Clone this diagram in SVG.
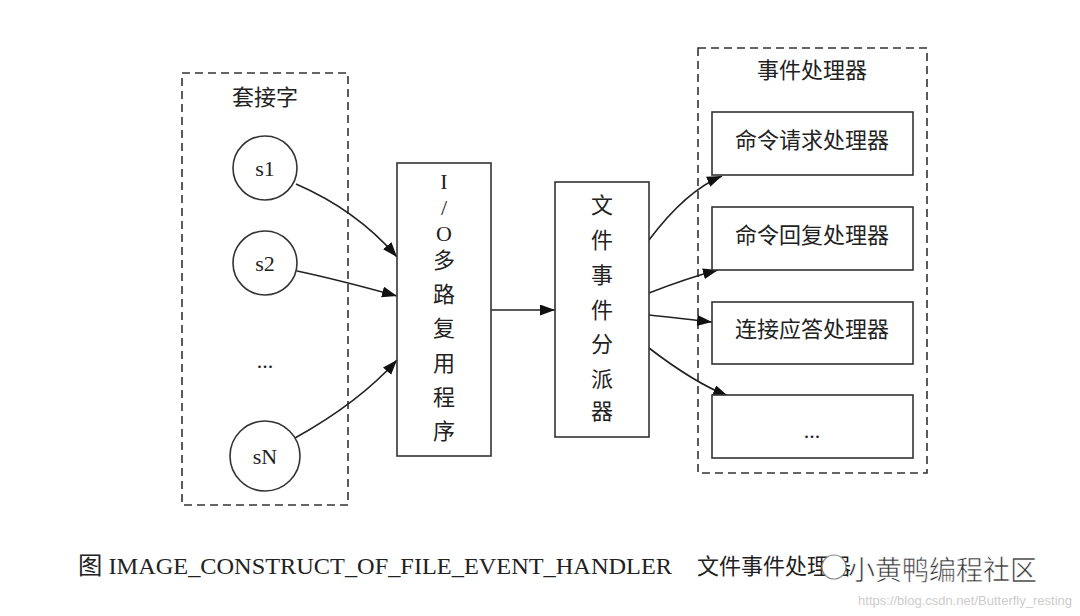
<svg xmlns="http://www.w3.org/2000/svg" width="1080" height="616" viewBox="0 0 1080 616">
<style>
.t{font-family:"Liberation Serif","Noto Sans CJK SC",serif;fill:#222;text-anchor:middle;dominant-baseline:central}
.c{font-size:22px}
.cl{fill:none;stroke:#333;stroke-width:1.6;stroke-dasharray:8,5}
.n{fill:#fff;stroke:#333;stroke-width:1.6}
.e{fill:none;stroke:#222;stroke-width:1.6;marker-end:url(#ah)}
</style>
<defs>
<marker id="ah" markerUnits="userSpaceOnUse" markerWidth="16" markerHeight="12" refX="15" refY="5.5" orient="auto">
<path d="M0,0 L15,5.5 L0,11 z" fill="#111"/>
</marker>
</defs>
<rect width="1080" height="616" fill="#fff"/>
<g id="cluster-sockets">
<rect class="cl" x="182" y="73" width="166" height="432"/>
<text class="t c" x="265" y="97">套接字</text>
</g>
<g id="cluster-handlers">
<rect class="cl" x="698" y="48" width="229" height="425"/>
<text class="t c" x="812" y="70">事件处理器</text>
</g>
<g id="connectors">
<path class="e" d="M296,184 C340,203 372,228 397,257"/>
<path class="e" d="M297,271 C335,279 368,288 397,296"/>
<path class="e" d="M295,438 C340,413 372,388 397,360"/>
<path class="e" d="M491,310 L555,310"/>
<path class="e" d="M649,240 C670,212 693,188 722,176"/>
<path class="e" d="M649,293 C672,284 695,276 718,270"/>
<path class="e" d="M649,315 C670,317 692,320 712,322"/>
<path class="e" d="M649,348 C675,368 700,385 728,396"/>
</g>
<g id="s1"><circle class="n" cx="265" cy="168" r="32"/><text class="t c" x="265" y="168">s1</text></g>
<g id="s2"><circle class="n" cx="265" cy="263" r="32"/><text class="t c" x="265" y="263">s2</text></g>
<g id="sdots"><text class="t c" x="265" y="360">...</text></g>
<g id="sN"><circle class="n" cx="265" cy="456" r="35"/><text class="t c" x="265" y="456">sN</text></g>
<g id="io">
<rect class="n" x="397" y="163" width="94" height="293"/>
<text class="t c" x="444" y="181">I</text>
<text class="t c" x="444" y="207">/</text>
<text class="t c" x="444" y="233">O</text>
<text class="t c" x="444" y="260">多</text>
<text class="t c" x="444" y="294">路</text>
<text class="t c" x="444" y="328">复</text>
<text class="t c" x="444" y="363">用</text>
<text class="t c" x="444" y="397">程</text>
<text class="t c" x="444" y="431">序</text>
</g>
<g id="dispatcher">
<rect class="n" x="555" y="182" width="94" height="255"/>
<text class="t c" x="602" y="205">文</text>
<text class="t c" x="602" y="240">件</text>
<text class="t c" x="602" y="275">事</text>
<text class="t c" x="602" y="310">件</text>
<text class="t c" x="602" y="344">分</text>
<text class="t c" x="602" y="379">派</text>
<text class="t c" x="602" y="411">器</text>
</g>
<g id="h1"><rect class="n" x="712" y="112" width="201" height="63"/><text class="t c" x="812" y="140">命令请求处理器</text></g>
<g id="h2"><rect class="n" x="712" y="207" width="201" height="63"/><text class="t c" x="812" y="235">命令回复处理器</text></g>
<g id="h3"><rect class="n" x="712" y="302" width="201" height="62"/><text class="t c" x="812" y="329">连接应答处理器</text></g>
<g id="h4"><rect class="n" x="712" y="395" width="201" height="63"/><text class="t c" x="812" y="430">...</text></g>
<g id="caption">
<text class="t" x="78" y="566" textLength="594" lengthAdjust="spacingAndGlyphs" style="text-anchor:start;font-size:24px">图 IMAGE_CONSTRUCT_OF_FILE_EVENT_HANDLER</text>
<text class="t c" x="697" y="566" style="text-anchor:start">文件事件处理器</text>
</g>
<g id="watermark">
<circle cx="834" cy="567" r="12" fill="#fff" stroke="#888" stroke-width="1.2"/>
<text class="t" x="848" y="568" style="text-anchor:start;font-size:27px;fill:#333;stroke:#fff;stroke-width:0.6;font-family:'Noto Sans CJK SC',sans-serif">小黄鸭编程社区</text>
<text class="t" x="1072" y="600" style="text-anchor:end;font-size:13px;fill:#ccc;font-family:'Liberation Sans',sans-serif">https://blog.csdn.net/Butterfly_resting</text>
</g>
</svg>
